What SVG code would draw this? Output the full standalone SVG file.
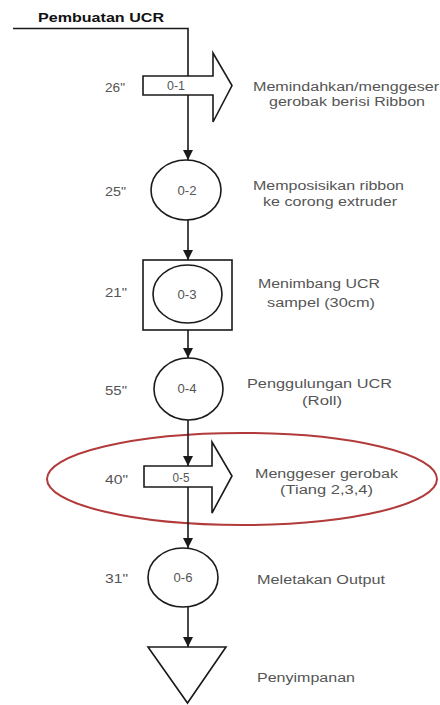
<svg xmlns="http://www.w3.org/2000/svg" width="440" height="705" viewBox="0 0 440 705">
<style>
.shape{fill:#ffffff;stroke:#1a1a1a;stroke-width:1.6}
.conn{fill:none;stroke:#1a1a1a;stroke-width:1.6}
.t{font-family:"Liberation Sans",Arial,sans-serif;font-size:12.5px;fill:#555555}
.lbl{font-family:"Liberation Sans",Arial,sans-serif;font-size:12.5px;fill:#555555;text-anchor:middle}
.title{font-family:"Liberation Sans",Arial,sans-serif;font-size:12.5px;font-weight:bold;fill:#111111}
</style>
<defs>
<marker id="ah" markerUnits="userSpaceOnUse" markerWidth="12" markerHeight="12" viewBox="0 0 12 12" refX="10" refY="6" orient="auto">
<path d="M0,1 L10,6 L0,11 Z" fill="#1a1a1a"/>
</marker>
</defs>
<rect width="440" height="705" fill="#ffffff"/>
<text class="title" x="38" y="22" textLength="126" lengthAdjust="spacingAndGlyphs">Pembuatan UCR</text>

<g id="node-01">
<path class="shape" d="M143,76 H213 V53 L232,85.5 L213,122 V95 H143 Z"/>
<text class="lbl" x="176" y="90" textLength="18" lengthAdjust="spacingAndGlyphs">0-1</text>
<text class="t" x="105" y="92" textLength="20" lengthAdjust="spacingAndGlyphs">26"</text>
<text class="t" x="253" y="91" textLength="186" lengthAdjust="spacingAndGlyphs">Memindahkan/menggeser</text>
<text class="t" x="269" y="106" textLength="156" lengthAdjust="spacingAndGlyphs">gerobak berisi Ribbon</text>
</g>

<g id="node-02">
<ellipse class="shape" cx="186" cy="190" rx="35" ry="30"/>
<text class="lbl" x="187" y="195" textLength="19" lengthAdjust="spacingAndGlyphs">0-2</text>
<text class="t" x="105" y="196" textLength="21" lengthAdjust="spacingAndGlyphs">25"</text>
<text class="t" x="253" y="190" textLength="151" lengthAdjust="spacingAndGlyphs">Memposisikan ribbon</text>
<text class="t" x="263" y="206" textLength="134" lengthAdjust="spacingAndGlyphs">ke corong extruder</text>
</g>

<g id="node-03">
<rect class="shape" x="143" y="260" width="89" height="70"/>
<ellipse class="shape" cx="187.5" cy="294" rx="34.5" ry="29"/>
<text class="lbl" x="187" y="299" textLength="19" lengthAdjust="spacingAndGlyphs">0-3</text>
<text class="t" x="105" y="297" textLength="22" lengthAdjust="spacingAndGlyphs">21"</text>
<text class="t" x="258" y="288" textLength="122" lengthAdjust="spacingAndGlyphs">Menimbang UCR</text>
<text class="t" x="267" y="307" textLength="108" lengthAdjust="spacingAndGlyphs">sampel (30cm)</text>
</g>

<g id="node-04">
<ellipse class="shape" cx="188.5" cy="389" rx="34.5" ry="31"/>
<text class="lbl" x="187" y="393" textLength="19" lengthAdjust="spacingAndGlyphs">0-4</text>
<text class="t" x="105" y="395" textLength="22" lengthAdjust="spacingAndGlyphs">55"</text>
<text class="t" x="247" y="388" textLength="145" lengthAdjust="spacingAndGlyphs">Penggulungan UCR</text>
<text class="t" x="302" y="405" textLength="40" lengthAdjust="spacingAndGlyphs">(Roll)</text>
</g>

<g id="node-05">
<path class="shape" d="M144,466 H212 V442 L232,476 L212,513 V487 H144 Z"/>
<text class="lbl" x="181" y="482" textLength="17" lengthAdjust="spacingAndGlyphs">0-5</text>
<text class="t" x="105" y="484" textLength="23" lengthAdjust="spacingAndGlyphs">40"</text>
<text class="t" x="255" y="478" textLength="143" lengthAdjust="spacingAndGlyphs">Menggeser gerobak</text>
<text class="t" x="280" y="494" textLength="93" lengthAdjust="spacingAndGlyphs">(Tiang 2,3,4)</text>
</g>

<g id="node-06">
<ellipse class="shape" cx="183" cy="577.5" rx="35" ry="29.5"/>
<text class="lbl" x="183" y="582" textLength="19" lengthAdjust="spacingAndGlyphs">0-6</text>
<text class="t" x="105" y="583" textLength="23" lengthAdjust="spacingAndGlyphs">31"</text>
<text class="t" x="257" y="584" textLength="128" lengthAdjust="spacingAndGlyphs">Meletakan Output</text>
</g>

<g id="node-storage">
<path class="shape" d="M148,647 H226 L187.5,703 Z"/>
<text class="t" x="257" y="682" textLength="98" lengthAdjust="spacingAndGlyphs">Penyimpanan</text>
</g>

<g id="highlight">
<ellipse cx="242" cy="479" rx="195" ry="46" fill="none" stroke="#b23a3a" stroke-width="2"/>
</g>

<g id="connectors">
<path class="conn" d="M13,28.5 H188 V76"/>
<path class="conn" d="M188,95 V160" marker-end="url(#ah)"/>
<path class="conn" d="M188,220 V260" marker-end="url(#ah)"/>
<path class="conn" d="M188,330 V358" marker-end="url(#ah)"/>
<path class="conn" d="M188,420 V466" marker-end="url(#ah)"/>
<path class="conn" d="M188,487 V548" marker-end="url(#ah)"/>
<path class="conn" d="M188,607 V647" marker-end="url(#ah)"/>
</g>
</svg>
